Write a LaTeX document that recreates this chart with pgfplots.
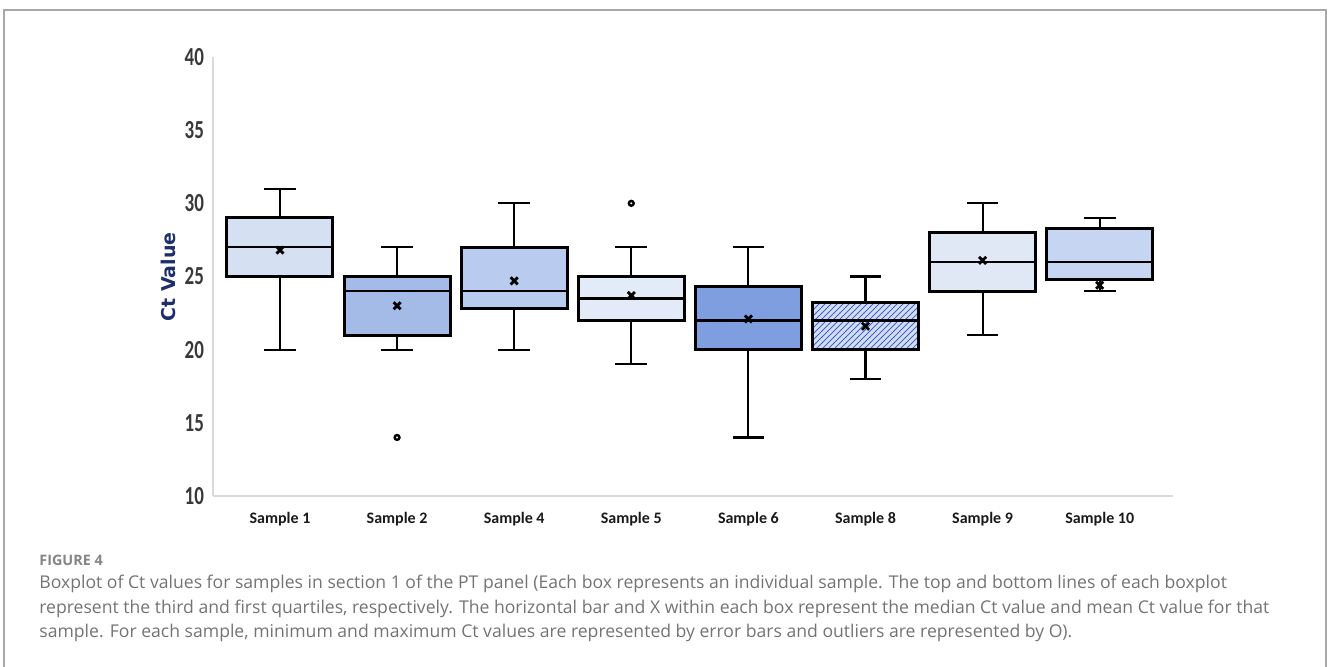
\documentclass[border=0pt]{standalone}
\usepackage{fontspec}
\usepackage{pgfplots}
\pgfplotsset{compat=1.18}
\usepgfplotslibrary{statistics}
\usetikzlibrary{patterns}
\newfontfamily\carlito{Carlito}
\newfontfamily\ytfont[FakeStretch=0.73]{Carlito}
\newfontfamily\dvs{DejaVu Sans}
\newfontfamily\osans{Open Sans}
\definecolor{framegray}{HTML}{A8A8A8}
\definecolor{axisgray}{HTML}{D9D9D9}
\definecolor{tickgray}{HTML}{383838}
\definecolor{navy}{HTML}{1F2F6E}
\definecolor{capgray}{HTML}{737373}
\definecolor{figgray}{HTML}{858585}
\definecolor{cA}{HTML}{D5E0F3}
\definecolor{cB}{HTML}{A5BBE7}
\definecolor{cC}{HTML}{B9CBEE}
\definecolor{cD}{HTML}{E4EBF8}
\definecolor{cE}{HTML}{7F9EE0}
\definecolor{cF}{HTML}{3F66CC}
\definecolor{cG}{HTML}{E0E8F6}
\definecolor{cH}{HTML}{C6D5F1}
\pgfplotsset{
  ctbox/.style={solid, draw=black, mark=o, mark size=1.2pt, mark options={line width=1.2pt, draw=black, fill=none},
    boxplot/draw direction=y,
    boxplot/box extend=0.905,
    boxplot/whisker extend=0.27,
    boxplot/every box/.style={line width=1.5pt},
    boxplot/every median/.style={line width=1.25pt},
    boxplot/every whisker/.style={line width=1.05pt},
  },
}
\begin{document}
\begin{tikzpicture}
\useasboundingbox (0,0) rectangle (664pt,333.5pt);
\draw[framegray, line width=0.75pt] (2pt,-1pt) -- (2pt,328.5pt) -- (663pt,328.5pt) -- (663pt,-1pt);
\begin{axis}[
  at={(106.5pt,85.5pt)}, anchor=south west,
  scale only axis, width=480pt, height=219.5pt,
  xmin=-0.572, xmax=7.626, ymin=10, ymax=40,
  axis x line=bottom, axis y line=left,
  axis line style={-, axisgray, line width=0.8pt},
  major tick length=0pt,
  ytick={10,15,20,25,30,35,40},
  yticklabels={10,15,20,25,30,35,40},
  yticklabel style={font=\ytfont\bfseries\fontsize{13}{15}\selectfont, text=tickgray, xshift=-1pt},
  xtick={0,1,2,3,4,5,6,7},
  xticklabels={Sample 1,Sample 2,Sample 4,Sample 5,Sample 6,Sample 8,Sample 9,Sample 10},
  xticklabel style={font=\carlito\bfseries\fontsize{8}{10}\selectfont, text=black!90, yshift=-4.5pt},
  clip=false,
]
\addplot+[ctbox, fill=cA, boxplot prepared={draw position=0, lower whisker=20, lower quartile=25, median=27, upper quartile=29, upper whisker=31}] coordinates {};
\addplot+[ctbox, fill=cB, boxplot prepared={draw position=1, lower whisker=20, lower quartile=21, median=24, upper quartile=25, upper whisker=27}] table[row sep=\\, y index=0] {y\\ 14\\};
\addplot+[ctbox, fill=cC, boxplot prepared={draw position=2, lower whisker=20, lower quartile=22.8, median=24, upper quartile=27, upper whisker=30}] coordinates {};
\addplot+[ctbox, fill=cD, boxplot prepared={draw position=3, lower whisker=19, lower quartile=22, median=23.5, upper quartile=25, upper whisker=27}] table[row sep=\\, y index=0] {y\\ 30\\};
\addplot+[ctbox, fill=cE, boxplot prepared={draw position=4, lower whisker=14, lower quartile=20, median=22, upper quartile=24.3, upper whisker=27}] coordinates {};
\addplot+[ctbox, fill=cF!22, boxplot/every box/.style={line width=1.5pt, postaction={pattern=north east lines, pattern color=cF}}, boxplot prepared={draw position=5, lower whisker=18, lower quartile=20, median=22, upper quartile=23.2, upper whisker=25}] coordinates {};
\addplot+[ctbox, fill=cG, boxplot prepared={draw position=6, lower whisker=21, lower quartile=24, median=26, upper quartile=28, upper whisker=30}] coordinates {};
\addplot+[ctbox, fill=cH, boxplot prepared={draw position=7, lower whisker=24, lower quartile=24.8, median=26, upper quartile=28.3, upper whisker=29}] coordinates {};
% means
\addplot[only marks, mark=x, mark size=2.5pt, mark options={line width=1.4pt, draw=black}]
  coordinates {(0,26.8) (1,23.0) (2,24.7) (3,23.7) (4,22.1) (5,21.6) (6,26.1) (7,24.4)};
\end{axis}
\node[rotate=90, font=\dvs\bfseries\fontsize{9.5}{11}\selectfont, text=navy] at (84pt,195pt) {Ct Value};
\node[anchor=base west, inner sep=0pt, font=\osans\bfseries\fontsize{7.2}{8}\selectfont, text=figgray] at (19.5pt,50.5pt) {FIGURE 4};
\node[anchor=base west, inner sep=0pt, font=\osans\fontsize{8.8}{10}\selectfont, text=capgray] at (19.5pt,39pt) {Boxplot of Ct values for samples in section 1 of the PT panel (Each box represents an individual sample. The top and bottom lines of each boxplot};
\node[anchor=base west, inner sep=0pt, font=\osans\fontsize{8.8}{10}\selectfont, text=capgray] at (19.5pt,26.5pt) {represent the third and first quartiles, respectively. The horizontal bar and X within each box represent the median Ct value and mean Ct value for that};
\node[anchor=base west, inner sep=0pt, font=\osans\fontsize{8.8}{10}\selectfont, text=capgray] at (19.5pt,14.5pt) {sample. For each sample, minimum and maximum Ct values are represented by error bars and outliers are represented by O).};
\end{tikzpicture}
\end{document}
